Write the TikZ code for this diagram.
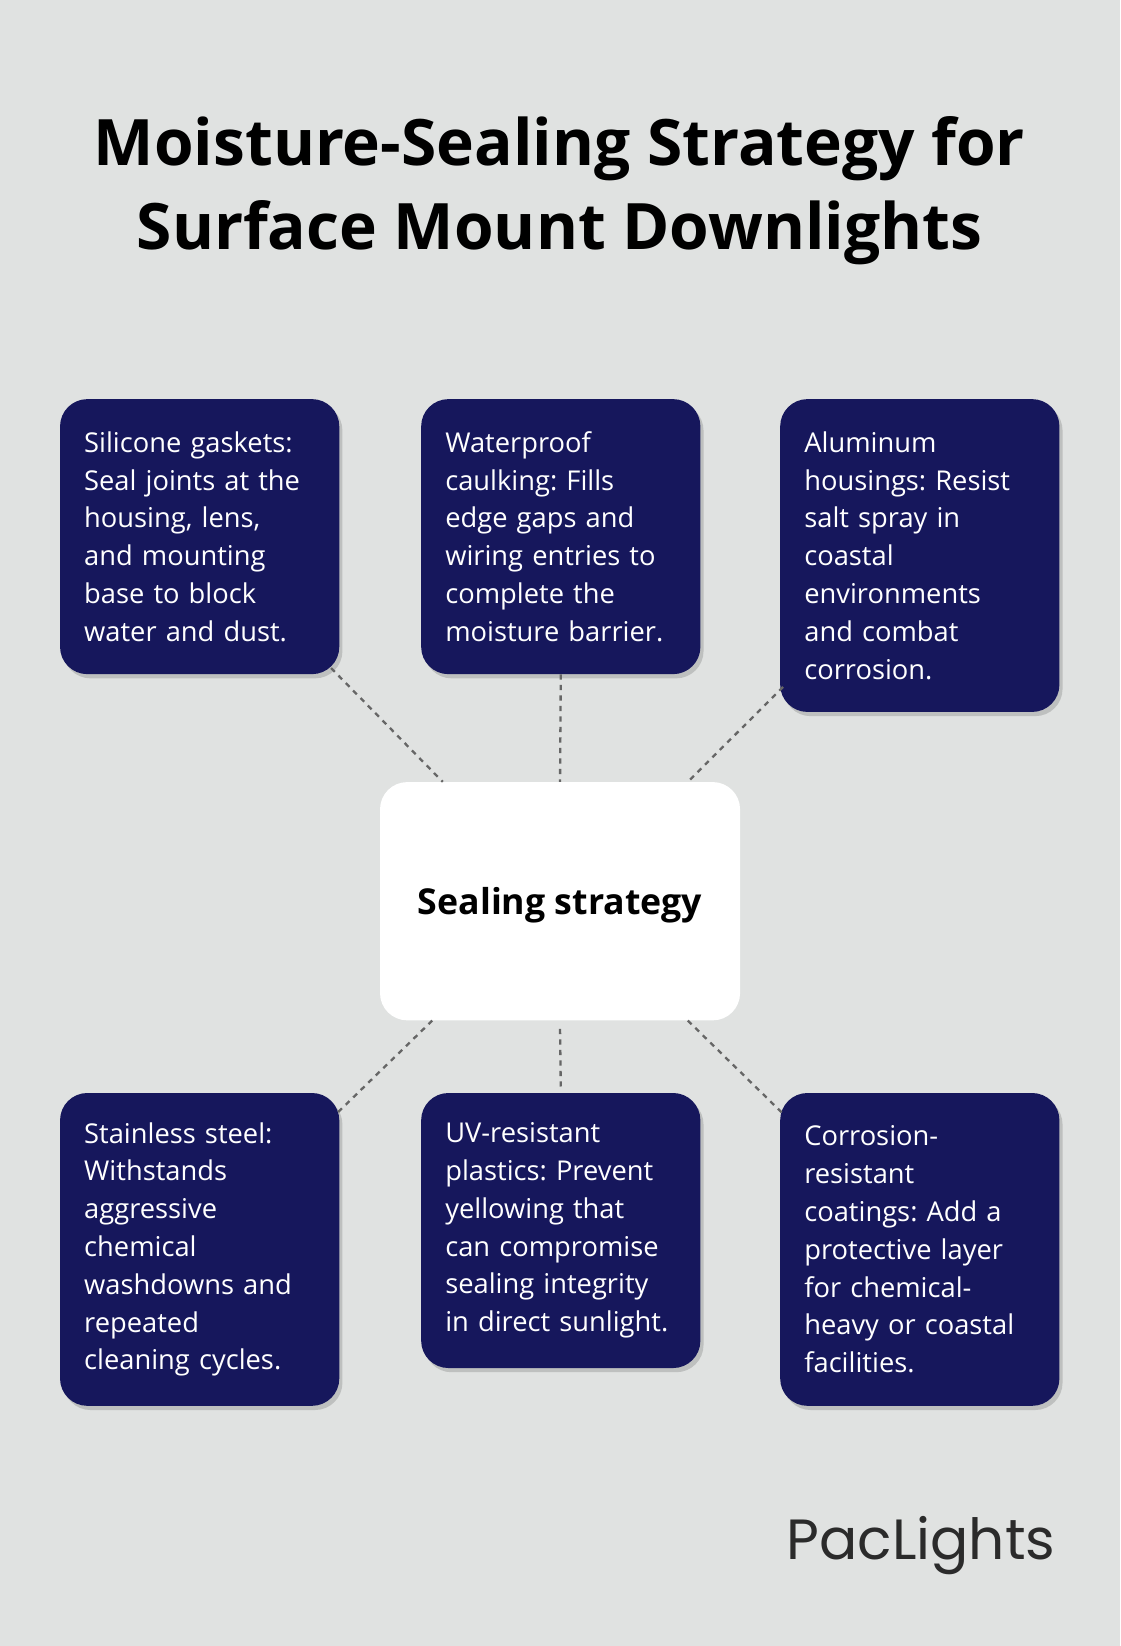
\documentclass[tikz,border=0pt]{standalone}
\usepackage{fontspec}
\setmainfont{Open Sans}
\newfontfamily\logofont{Poppins}
\usetikzlibrary{positioning,shadows}
\definecolor{bgGray}{HTML}{E0E2E1}
\definecolor{navy}{HTML}{16175C}
\definecolor{logoGray}{HTML}{2B2B2B}
\tikzset{
  card/.style={fill=navy, text=white, rounded corners=26pt, anchor=north west,
    text width=220pt, inner xsep=23pt, inner ysep=20pt, align=left,
    font=\frenchspacing\fontsize{26}{36}\selectfont,
    drop shadow={shadow xshift=3pt, shadow yshift=-4pt, opacity=0.15, fill=black}},
  hub/.style={fill=white, rounded corners=26pt, minimum width=343pt, minimum height=227pt,
    font=\bfseries\fontsize{34}{38}\selectfont},
  link/.style={draw=gray!80!black, line width=2.2pt, dash pattern=on 5pt off 5pt}
}
\begin{document}
\begin{tikzpicture}[x=1pt,y=-1pt]
\fill[bgGray] (0,0) rectangle (1067,1568);
\useasboundingbox (0,0) rectangle (1067,1568);
\node[font=\bfseries\fontsize{61}{80}\selectfont, align=center] (title) at (533,182)
  {Moisture-Sealing Strategy for\\Surface Mount Downlights};
% top row
\node[card, minimum height=262pt] (gasket) at (57,380)
  {Silicone gaskets:\\Seal joints at the\\housing, lens,\\and mounting\\base to block\\water and dust.};
\node[card, minimum height=262pt] (caulk) at (401,380)
  {Waterproof\\caulking: Fills\\edge gaps and\\wiring entries to\\complete the\\moisture barrier.};
\node[card, minimum height=298pt] (alu) at (743,380)
  {Aluminum\\housings: Resist\\salt spray in\\coastal\\environments\\and combat\\corrosion.};
% centre
\node[hub] (hub) at (533.5,858.5) {};
\node[font=\bfseries\fontsize{34}{38}\selectfont] (hubtext) at (533.5,862) {Sealing strategy};
% bottom row
\node[card, minimum height=298pt] (steel) at (57,1041)
  {Stainless steel:\\Withstands\\aggressive\\chemical\\washdowns and\\repeated\\cleaning cycles.};
\node[card, minimum height=262pt] (uv) at (401,1041)
  {UV-resistant\\plastics: Prevent\\yellowing that\\can compromise\\sealing integrity\\in direct sunlight.};
\node[card, minimum height=298pt] (coat) at (743,1041)
  {Corrosion-\\resistant\\coatings: Add a\\protective layer\\for chemical-\\heavy or coastal\\facilities.};
% connectors
\draw[link] ([shift={(-8pt,6pt)}]gasket.south east) -- ([shift={(60pt,0pt)}]hub.north west);
\draw[link] (caulk.south) -- (hub.north);
\draw[link] ([shift={(3pt,24pt)}]alu.south west) -- ([shift={(-50pt,0pt)}]hub.north east);
\draw[link] ([shift={(50pt,0pt)}]hub.south west) -- ([shift={(-3pt,-20pt)}]steel.north east);
\draw[link] ([yshift=-8pt]hub.south) -- ([yshift=6pt]uv.north);
\draw[link] ([shift={(-50pt,0pt)}]hub.south east) -- ([shift={(3pt,-20pt)}]coat.north west);
\node[text=logoGray, font=\logofont\fontsize{54}{60}\selectfont, anchor=east] (logo) at (1009,1472) {PacLights};
\end{tikzpicture}
\end{document}
